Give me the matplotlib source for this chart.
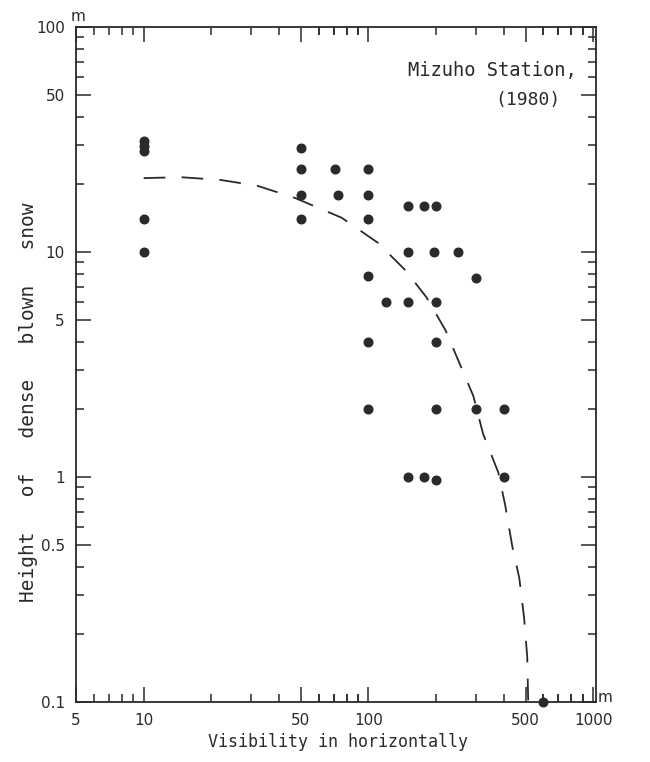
import numpy as np
import matplotlib.pyplot as plt
from matplotlib.ticker import FixedLocator, NullFormatter

vis = [10, 10, 10, 10, 10,
       50, 50, 50, 50,
       71, 73,
       100, 100, 100, 100, 100, 100,
       120,
       150, 150, 150, 150,
       177, 177,
       200, 196, 200, 200, 200, 200,
       250,
       300, 300,
       400, 400,
       600]
height = [31, 29.5, 28, 14, 10,
          29, 23.4, 18, 14,
          23.4, 18,
          23.4, 18, 14, 7.8, 4, 2,
          6,
          16, 10, 6, 1,
          16, 1,
          16, 10, 6, 4, 2, 0.97,
          10,
          7.7, 2,
          2, 1,
          0.1]

# dashed curve
curve_vis = [10, 14.6, 22, 32, 47, 76, 110, 146, 181, 220, 256, 293, 324,
             378, 406, 437, 469, 493, 509, 514]
curve_h = [21.3, 21.5, 20.9, 19.7, 17.4, 14.2, 11.0, 8.3, 6.3, 4.5, 3.15,
           2.29, 1.55, 1.05, 0.75, 0.49, 0.356, 0.236, 0.158, 0.1]

x_major = [5, 10, 50, 100, 500, 1000]
x_labels = ["5", "10", "50", "100", "500", "1000"]
y_major = [0.1, 0.5, 1, 5, 10, 50, 100]
y_labels = ["0.1", "0.5", "1", "5", "10", "50", "100"]

ink = "#2a2a2a"
mono = ['DejaVu Sans Mono']
plt.rcParams['font.family'] = ['DejaVu Sans']

fig = plt.figure(figsize=(6.5, 7.62), dpi=100)
ax = fig.add_axes([0.117, 0.0787, 0.8, 0.8859])

ax.set_xscale('log')
ax.set_yscale('log')
ax.set_xlim(5, 1030)
ax.set_ylim(0.1, 100)

ax.plot(curve_vis, curve_h, color=ink, lw=1.3, linestyle=(0, (12, 9)))
ax.plot(vis, height, 'o', color=ink, ms=6.2, clip_on=False, zorder=5)

x_minor = [v * d for d in (1, 10, 100) for v in range(5, 10)] + \
          [v * 10 for v in range(1, 10)] + [v * 100 for v in range(1, 10)]
x_minor = [v for v in x_minor if 5 <= v <= 1000 and v not in x_major]
y_minor = [v * d for d in (0.1, 1, 10) for v in range(1, 10)]
y_minor = [v for v in y_minor if v not in y_major]

ax.xaxis.set_major_locator(FixedLocator(x_major))
ax.xaxis.set_minor_locator(FixedLocator(x_minor))
ax.xaxis.set_minor_formatter(NullFormatter())
ax.set_xticklabels(x_labels)
ax.yaxis.set_major_locator(FixedLocator(y_major))
ax.yaxis.set_minor_locator(FixedLocator(y_minor))
ax.yaxis.set_minor_formatter(NullFormatter())
ax.set_yticklabels(y_labels)

ax.tick_params(which='both', direction='in', top=True, right=True,
               color=ink, width=1.1, labelsize=11, labelcolor=ink)
ax.tick_params(which='major', length=11)
ax.tick_params(which='minor', length=6)
ax.tick_params(axis='x', which='major', pad=8)
ax.tick_params(axis='y', which='major', pad=8)
for s in ax.spines.values():
    s.set_linewidth(1.3)
    s.set_color(ink)

ax.text(-0.01, 1.005, "m", transform=ax.transAxes, fontsize=11, color=ink,
        ha='left', va='bottom')
ax.text(1.003, -0.005, "m", transform=ax.transAxes, fontsize=11, color=ink,
        ha='left', va='bottom')

ax.text(0.962, 0.936, "Mizuho Station,", transform=ax.transAxes, fontsize=13.5,
        family=mono, color=ink, ha='right', va='center')
ax.text(0.932, 0.892, "(1980)", transform=ax.transAxes, fontsize=13,
        family=mono, color=ink, ha='right', va='center')

fig.text(338 / 650, 1 - 742 / 762, "Visibility in horizontally", fontsize=12,
         family=mono, color=ink, ha='center', va='center')
fig.text(29 / 650, 1 - 402 / 762, "Height   of   dense   blown   snow", fontsize=14,
         family=mono, color=ink, ha='center', va='center', rotation=90)

fig.savefig("out.png", dpi=100, facecolor='white')
